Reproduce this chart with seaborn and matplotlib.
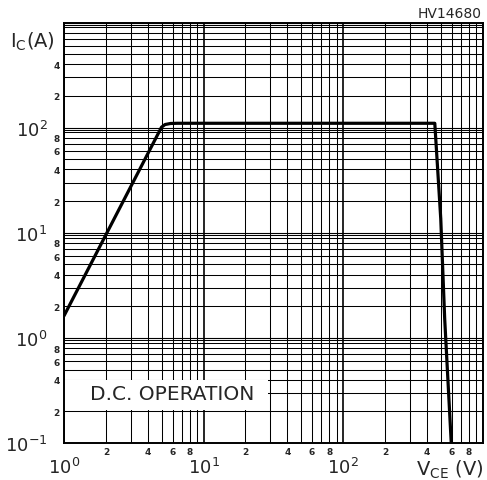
import numpy as np
import pandas as pd
import seaborn as sns
from matplotlib import pyplot as plt
from matplotlib.patches import Rectangle
from matplotlib.ticker import LogLocator, FuncFormatter

# safe operating area curve
vce = [1.0, 5.0, 5.3, 5.8, 6.5, 455.0, 502.0, 536.0, 597.0]
ic = [1.62, 101.0, 107.0, 109.5, 110.0, 110.0, 13.6, 1.5, 0.1]

x_limits = (1, 1000)
y_limits = (0.1, 1000)
minor_subs = [2, 3, 4, 5, 6, 7, 8, 9]
y_minor_subs = [2, 3, 4, 5, 6, 7, 8, 9, 9.5]
labelled_subs = (2, 4, 6, 8)

box_x = (1, 29)
box_y = (0.2, 0.4)
box_text = "D.C. OPERATION"
part_number = "HV14680"


def split_log(v):
    exp = int(np.floor(np.log10(v) + 1e-9))
    return exp, round(v / 10**exp, 2)


def major_fmt(v, pos):
    exp, _ = split_log(v)
    if exp >= 3:
        return ""
    return "$10^{%d}$" % exp


def x_minor_fmt(v, pos):
    _, m = split_log(v)
    return f"{int(m)}" if m in labelled_subs else ""


def y_minor_fmt(v, pos):
    exp, m = split_log(v)
    if m not in labelled_subs:
        return ""
    if exp >= 2 and m > 4:
        return ""
    return f"{int(m)}"


sns.set_style("white")
plt.rcParams["font.family"] = ["DejaVu Sans"]
plt.rcParams["mathtext.default"] = "regular"

df = pd.DataFrame({"vce": vce, "ic": ic})

fig = plt.figure(figsize=(4.87, 4.81), dpi=100)
ax = fig.add_axes([64 / 487, 37 / 481, 418.5 / 487, 420.5 / 481])

ax.set_xscale("log")
ax.set_yscale("log")
ax.set_xlim(*x_limits)
ax.set_ylim(*y_limits)

sns.lineplot(data=df, x="vce", y="ic", sort=False, estimator=None,
             color="black", linewidth=2.3, ax=ax, zorder=5)

ax.xaxis.set_major_locator(LogLocator(base=10, numticks=10))
ax.yaxis.set_major_locator(LogLocator(base=10, numticks=10))
ax.xaxis.set_minor_locator(LogLocator(base=10, subs=minor_subs, numticks=30))
ax.yaxis.set_minor_locator(LogLocator(base=10, subs=y_minor_subs, numticks=30))
ax.xaxis.set_major_formatter(FuncFormatter(major_fmt))
ax.yaxis.set_major_formatter(FuncFormatter(major_fmt))
ax.xaxis.set_minor_formatter(FuncFormatter(x_minor_fmt))
ax.yaxis.set_minor_formatter(FuncFormatter(y_minor_fmt))

ax.set_axisbelow(True)
ax.grid(which="major", axis="x", color="black", linewidth=1.2)
ax.grid(which="major", axis="y", color="black", linewidth=0.8)
ax.grid(which="minor", color="black", linewidth=0.75)

ax.tick_params(which="both", length=0)
ax.tick_params(axis="x", which="major", pad=10, labelsize=13)
ax.tick_params(axis="y", which="major", pad=12, labelsize=13)
ax.tick_params(axis="x", which="minor", pad=3, labelsize=6.5)
ax.tick_params(axis="y", which="minor", pad=3, labelsize=6.5)
plt.setp(ax.get_xticklabels(minor=True), fontweight="bold")
plt.setp(ax.get_yticklabels(minor=True), fontweight="bold")

for spine in ax.spines.values():
    spine.set_color("black")
    spine.set_linewidth(1.4)
    spine.set_zorder(6)

ax.set_xlabel("")
ax.set_ylabel("")

# white label box that hides the grid behind the text
ax.add_patch(Rectangle((box_x[0], box_y[0] * 1.02), box_x[1] - box_x[0],
                       box_y[1] * 0.985 - box_y[0] * 1.02,
                       facecolor="white", edgecolor="none", zorder=3))
ax.text(1.53, 0.293, box_text, fontsize=14.5, ha="left", va="center", zorder=4)

fig.text(10 / 487, 1 - 31 / 481, r"I$_{C}$(A)", fontsize=14, ha="left", va="top")
fig.text(483 / 487, 1 - 476 / 481, r"V$_{CE}$ (V)", fontsize=14,
         ha="right", va="baseline")
fig.text(482 / 487, 1 - 7 / 481, part_number, fontsize=10, ha="right", va="top")

fig.savefig("out.png", dpi=100, facecolor="white")
